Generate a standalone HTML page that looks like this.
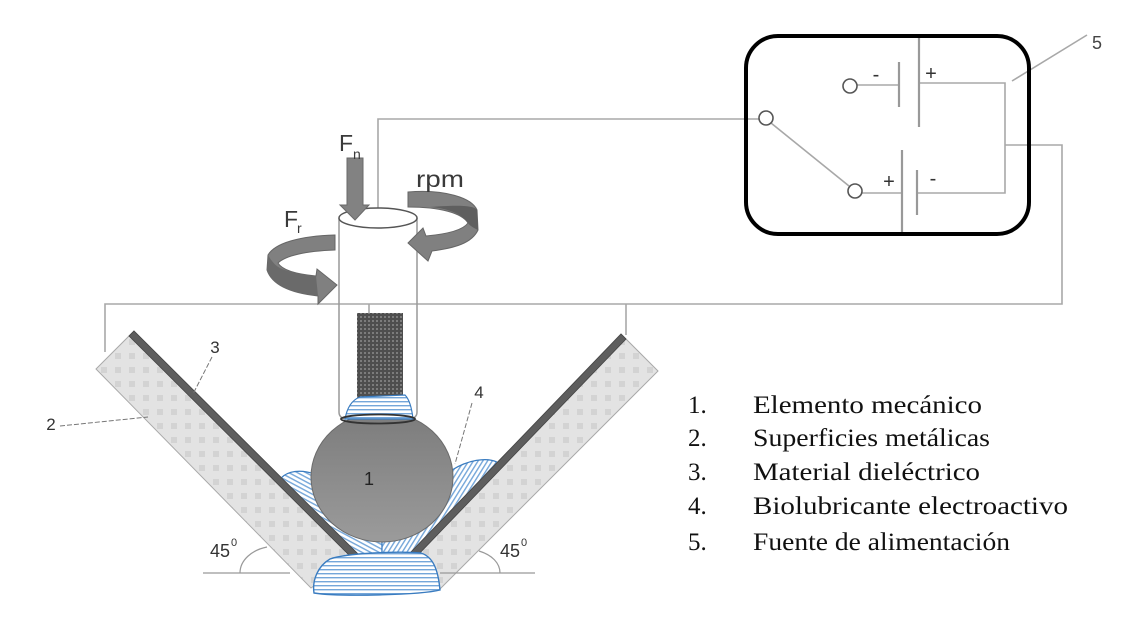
<!DOCTYPE html>
<html>
<head>
<meta charset="utf-8">
<style>
html,body{margin:0;padding:0;background:#fff;}
svg{display:block;}
</style>
</head>
<body>
<svg width="1146" height="626" viewBox="0 0 1146 626" xmlns="http://www.w3.org/2000/svg">
<defs>
  <pattern id="pl" width="14" height="14" patternUnits="userSpaceOnUse">
    <rect width="14" height="14" fill="#e3e3e3"/>
    <rect x="3" y="3" width="6" height="6" fill="#d3d3d3"/>
  </pattern>
  <pattern id="pin" width="4" height="4" patternUnits="userSpaceOnUse">
    <rect width="4" height="4" fill="#4e4e4e"/>
    <rect width="2" height="2" fill="#7c7c7c"/>
  </pattern>
  <pattern id="sh" width="6" height="4" patternUnits="userSpaceOnUse">
    <rect width="6" height="4" fill="#fff"/>
    <rect y="1" width="6" height="1.4" fill="#74a6d9"/>
  </pattern>
  <pattern id="sl" width="6" height="4" patternUnits="userSpaceOnUse" patternTransform="rotate(28)">
    <rect width="6" height="4" fill="#fff"/>
    <rect y="1" width="6" height="1.4" fill="#74a6d9"/>
  </pattern>
  <pattern id="sr" width="6" height="4" patternUnits="userSpaceOnUse" patternTransform="rotate(-58)">
    <rect width="6" height="4" fill="#fff"/>
    <rect y="1" width="6" height="1.4" fill="#74a6d9"/>
  </pattern>
  <linearGradient id="ball" x1="0" y1="0" x2="0" y2="1">
    <stop offset="0" stop-color="#7c7c7c"/>
    <stop offset="1" stop-color="#9b9b9b"/>
  </linearGradient>
</defs>

<!-- wires -->
<g fill="none" stroke="#a8a8a8" stroke-width="1.6">
  <path d="M105,352 V304 H1062 V145 H1005"/>
  <path d="M626,304 V335"/>
  <path d="M369,304 V313"/>
  <path d="M759,119 H378 V218"/>
  <path d="M771,123 L849,186"/>
  <path d="M857,85 H899"/>
  <path d="M919,83 H1005 V193 H917"/>
  <path d="M862,193 H902"/>
  <path d="M1087,35 L1012,81"/>
</g>
<g stroke="#999" stroke-width="2.2">
  <line x1="919" y1="38" x2="919" y2="127"/>
  <line x1="899" y1="62" x2="899" y2="107"/>
  <line x1="902" y1="150" x2="902" y2="233"/>
  <line x1="917" y1="170" x2="917" y2="215"/>
</g>
<g fill="#fff" stroke="#555" stroke-width="1.6">
  <circle cx="850" cy="86" r="7"/>
  <circle cx="855" cy="191" r="7"/>
  <circle cx="766" cy="118" r="7"/>
</g>
<rect x="746" y="36" width="283" height="198" rx="32" ry="32" fill="none" stroke="#000" stroke-width="4"/>
<g font-family="Liberation Sans, sans-serif" font-size="20" fill="#333" text-anchor="middle">
  <text x="876" y="81">-</text>
  <text x="931" y="80">+</text>
  <text x="889" y="188">+</text>
  <text x="933" y="185">-</text>
</g>
<text x="1097" y="49" font-family="Liberation Sans, sans-serif" font-size="18" fill="#444" text-anchor="middle">5</text>

<!-- lubricant sides -->
<path d="M281,478 C288,471 300,469 315,474 L382,490 L382,557 L358,557 Z" fill="url(#sl)" stroke="#3a7cc0" stroke-width="1.2"/>
<path d="M497,462 C486,457 468,460 452,470 L382,490 L382,557 L410,557 Z" fill="url(#sr)" stroke="#3a7cc0" stroke-width="1.2"/>

<!-- plates -->
<polygon points="134,331 358,554 311,588 96,369" fill="url(#pl)" stroke="#a9a9a9" stroke-width="1"/>
<polygon points="134,331 358,554 353,559 129,336" fill="#5e5e5e" stroke="#444" stroke-width="0.8"/>
<polygon points="621,334 658,371 440,589 410,553" fill="url(#pl)" stroke="#a9a9a9" stroke-width="1"/>
<polygon points="621,334 410,553 415,558 626,339" fill="#5e5e5e" stroke="#444" stroke-width="0.8"/>

<!-- bottom blob -->
<path d="M314,593 C312,580 318,566 330,559 C346,553 400,551 421,553 C433,557 438,569 440,590 C420,595 340,597 314,593 Z" fill="url(#sh)" stroke="#3a7cc0" stroke-width="1.4"/>

<!-- ball -->
<ellipse cx="382" cy="477" rx="71" ry="65" fill="url(#ball)" stroke="#6a6a6a" stroke-width="1"/>
<text x="369" y="485" font-family="Liberation Sans, sans-serif" font-size="18" fill="#222" text-anchor="middle">1</text>

<!-- cylinder -->
<g fill="none" stroke="#999" stroke-width="1.5">
  <path d="M339,218 V412 Q339,418 346,419"/>
  <path d="M417,218 V412 Q417,418 410,419"/>
</g>
<rect x="357" y="313" width="46" height="88" fill="url(#pin)"/>
<path d="M345,419 C347,408 352,400 360,397 L405,395 C410,400 412,410 413,419 Z" fill="url(#sh)" stroke="#3a7cc0" stroke-width="1.2"/>
<ellipse cx="378" cy="419" rx="37" ry="4.5" fill="none" stroke="#333" stroke-width="1.8"/>
<ellipse cx="378" cy="218" rx="39" ry="10" fill="#fff" stroke="#555" stroke-width="1.5"/>

<!-- Fn arrow -->
<path d="M347,158 H363 V205 H369 L355,220 L340,205 H347 Z" fill="#828282" stroke="#6a6a6a" stroke-width="1"/>
<!-- rpm arrow -->
<path d="M408,192 C445,189 472,198 477,210 L478,230 C472,243 455,248 432,251 L428,261 L408,243 L423,228 L426,236 C448,234 463,230 468,223 C462,213 440,207 408,207 Z" fill="#808080" stroke="#666" stroke-width="1"/>
<path d="M468,223 C462,213 445,208 430,207 C455,205 474,205 477,210 L478,230 C474,228 470,226 468,223 Z" fill="#5f5f5f"/>
<!-- Fr arrow -->
<path d="M335,235 C300,236 275,243 268,255 L267,270 C272,285 290,293 318,296 L318,304 L337,285 L317,269 L316,276 C295,274 282,270 278,263 C285,256 305,251 335,250 Z" fill="#808080" stroke="#666" stroke-width="1"/>
<path d="M268,255 C272,262 276,266 280,268 C288,272 300,274 316,276 L318,296 C290,293 272,285 267,270 Z" fill="#6a6a6a"/>

<!-- force labels -->
<g font-family="Liberation Sans, sans-serif" fill="#3a3a3a">
  <text x="339" y="151" font-size="23">F</text>
  <text x="353" y="159" font-size="14">n</text>
  <text x="284" y="227" font-size="23">F</text>
  <text x="297" y="233" font-size="14">r</text>
  <text x="416" y="187" font-size="23" textLength="48" lengthAdjust="spacingAndGlyphs">rpm</text>
</g>

<!-- leaders -->
<g fill="none" stroke="#777" stroke-width="1" stroke-dasharray="5,2">
  <path d="M60,426 L148,417"/>
  <path d="M212,357 L193,394"/>
  <path d="M472,403 L455,464"/>
</g>
<g font-family="Liberation Sans, sans-serif" font-size="17" fill="#333" text-anchor="middle">
  <text x="51" y="430">2</text>
  <text x="215" y="353">3</text>
  <text x="479" y="398">4</text>
</g>

<!-- angles -->
<g fill="none" stroke="#999" stroke-width="1.2">
  <path d="M203,573 H290"/>
  <path d="M440,573 H535"/>
  <path d="M240,573 C240,560 252,550 267,547"/>
  <path d="M479,551 C492,555 500,563 500,573"/>
</g>
<g font-family="Liberation Sans, sans-serif" fill="#333">
  <text x="210" y="557" font-size="18">45</text>
  <text x="231" y="546" font-size="11">0</text>
  <text x="500" y="557" font-size="18">45</text>
  <text x="521" y="546" font-size="11">0</text>
</g>

<!-- legend -->
<g font-family="Liberation Serif, serif" font-size="25" fill="#111">
  <text x="688" y="413">1.</text>
  <text x="688" y="446">2.</text>
  <text x="688" y="480">3.</text>
  <text x="688" y="514">4.</text>
  <text x="688" y="550">5.</text>
  <text x="753" y="413" textLength="229" lengthAdjust="spacingAndGlyphs">Elemento mecánico</text>
  <text x="753" y="446" textLength="237" lengthAdjust="spacingAndGlyphs">Superficies metálicas</text>
  <text x="753" y="480" textLength="227" lengthAdjust="spacingAndGlyphs">Material dieléctrico</text>
  <text x="753" y="514" textLength="315" lengthAdjust="spacingAndGlyphs">Biolubricante electroactivo</text>
  <text x="753" y="550" textLength="257" lengthAdjust="spacingAndGlyphs">Fuente de alimentación</text>
</g>
</svg>
</body>
</html>
